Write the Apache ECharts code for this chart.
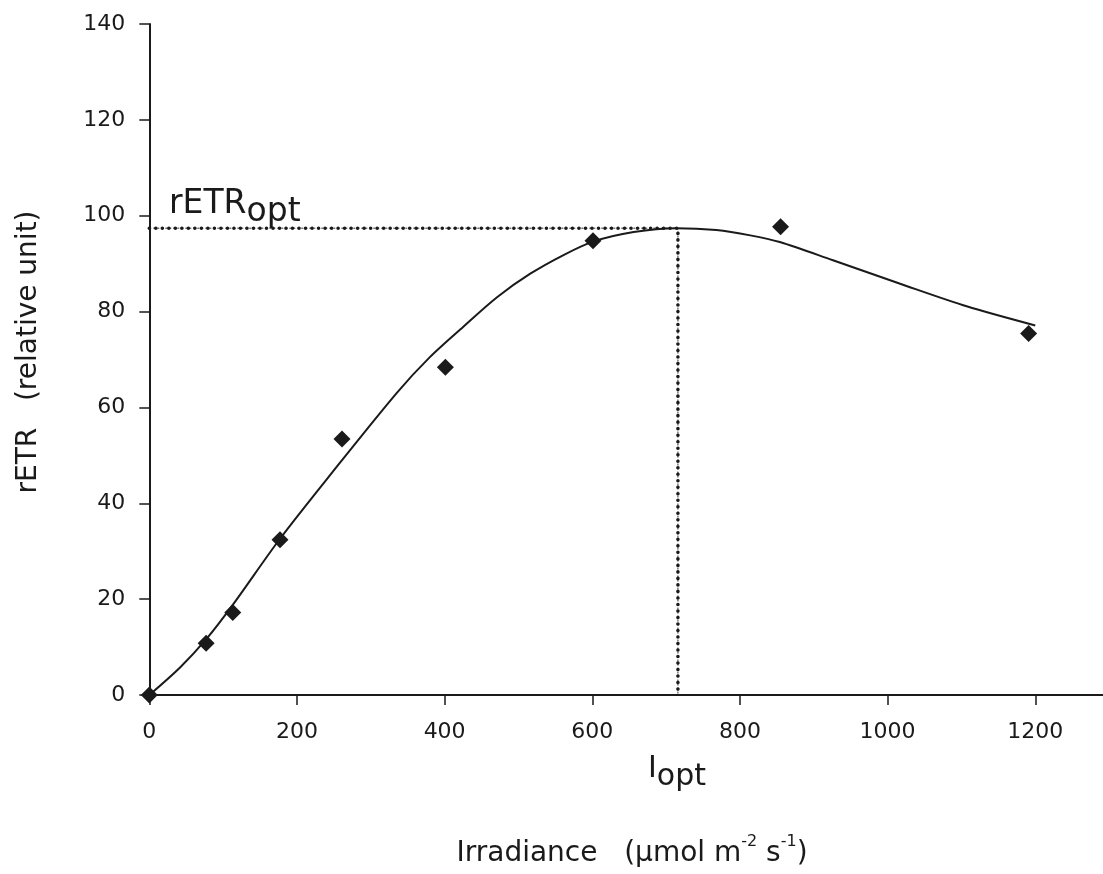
<!DOCTYPE html>
<html>
<head>
<meta charset="utf-8">
<script src="https://cdn.jsdelivr.net/npm/echarts@6/dist/echarts.min.js"></script>
<style>
  html, body { margin: 0; padding: 0; background: #ffffff; }
  #chart { width: 1103px; height: 874px; }
</style>
</head>
<body>
<div id="chart"></div>
<script>
// Measured rETR values (diamonds)
const irradiance = [0, 77, 113, 177, 261, 401, 601, 855, 1191];
const retr = [0, 10.8, 17.2, 32.4, 53.4, 68.4, 94.8, 97.7, 75.4];

// Fitted light-response curve, sampled along its length
const fitIrradiance = [0, 42, 78, 113, 177, 247, 335, 380, 425, 471, 516, 561, 601, 656, 714, 768, 814, 854, 926, 1017, 1107, 1200];
const fitRetr = [0, 5.8, 11.8, 18.8, 32.6, 46.3, 63.0, 70.5, 76.8, 83.0, 87.9, 91.8, 94.6, 96.6, 97.4, 97.0, 95.9, 94.5, 90.7, 85.8, 81.1, 77.1];

// Optimum of the fitted curve
const iOpt = 716;
const rEtrOpt = 97.4;

// Axis ticks
const xTicks = [0, 200, 400, 600, 800, 1000, 1200];
const yTicks = [0, 20, 40, 60, 80, 100, 120, 140];

const FONT = 'DejaVu Sans';
const INK = '#1a1a1a';

const chart = echarts.init(document.getElementById('chart'), null, { renderer: 'canvas' });

const pairs = (xs, ys) => xs.map((x, i) => [x, ys[i]]);

const optGuide = [[0, rEtrOpt], [iOpt, rEtrOpt], [iOpt, 0]];

chart.setOption({
  animation: false,
  backgroundColor: '#ffffff',
  grid: {
    left: 149.3, top: 24, width: 959.8, height: 671,
    containLabel: false, outerBoundsMode: 'none'
  },
  xAxis: {
    type: 'value',
    min: 0, max: 1300, interval: 200,
    axisLine: { lineStyle: { color: INK, width: 2 } },
    axisTick: { show: true, length: 10, inside: false, lineStyle: { color: INK, width: 1.5 } },
    axisLabel: {
      color: INK, fontFamily: FONT, fontSize: 22, margin: 26,
      formatter: v => (xTicks.includes(v) ? String(v) : '')
    },
    splitLine: { show: false }
  },
  yAxis: {
    type: 'value',
    min: 0, max: 140, interval: 20,
    axisLine: { show: true, lineStyle: { color: INK, width: 2 } },
    axisTick: { show: true, length: 10, inside: false, lineStyle: { color: INK, width: 1.5 } },
    axisLabel: {
      color: INK, fontFamily: FONT, fontSize: 22, margin: 24,
      formatter: v => (yTicks.includes(v) ? String(v) : '')
    },
    splitLine: { show: false }
  },
  series: [
    {
      name: 'guide-line',
      type: 'line',
      data: optGuide,
      symbol: 'none',
      silent: true,
      lineStyle: { color: '#333333', width: 1, type: [2, 2] },
      z: 1
    },
    {
      name: 'guide-dots',
      type: 'line',
      data: optGuide,
      symbol: 'none',
      silent: true,
      lineStyle: { color: '#1a1a1a', width: 3.6, type: [0.01, 6.5], cap: 'round' },
      z: 1
    },
    {
      name: 'fit',
      type: 'line',
      data: pairs(fitIrradiance, fitRetr),
      symbol: 'none',
      smooth: 0.3,
      lineStyle: { color: INK, width: 2 },
      z: 2
    },
    {
      name: 'rETR',
      type: 'scatter',
      data: pairs(irradiance, retr),
      symbol: 'diamond',
      symbolSize: 17,
      itemStyle: { color: INK, opacity: 1 },
      z: 3
    }
  ],
  graphic: [
    {
      type: 'text',
      x: 29, y: 352,
      rotation: Math.PI / 2,
      style: {
        text: 'rETR   (relative unit)',
        fontFamily: FONT, fontSize: 28, fill: INK,
        align: 'center', verticalAlign: 'middle'
      }
    },
    {
      type: 'text',
      x: 632, y: 851,
      style: {
        text: '{a|Irradiance   (μmol m}{s|-2}{a| s}{s|-1}{a|)}',
        align: 'center', verticalAlign: 'middle',
        rich: {
          a: { fontFamily: FONT, fontSize: 28, fill: INK, lineHeight: 34, verticalAlign: 'bottom' },
          s: { fontFamily: FONT, fontSize: 16, fill: INK, verticalAlign: 'top', lineHeight: 16 }
        }
      }
    },
    {
      type: 'text',
      x: 648, y: 792,
      style: {
        text: '{i|I}{s|opt}',
        align: 'left', verticalAlign: 'bottom',
        rich: {
          i: { fontFamily: FONT, fontSize: 30, fill: INK, padding: [0, 0, 8, 0], verticalAlign: 'bottom' },
          s: { fontFamily: FONT, fontSize: 30, fill: INK, verticalAlign: 'bottom' }
        }
      }
    },
    {
      type: 'text',
      x: 169, y: 229,
      style: {
        text: '{r|rETR}{s|opt}',
        align: 'left', verticalAlign: 'bottom',
        rich: {
          r: { fontFamily: FONT, fontSize: 33, fill: INK, padding: [0, 0, 8, 0], verticalAlign: 'bottom' },
          s: { fontFamily: FONT, fontSize: 33, fill: INK, verticalAlign: 'bottom' }
        }
      }
    }
  ]
});
</script>
</body>
</html>
